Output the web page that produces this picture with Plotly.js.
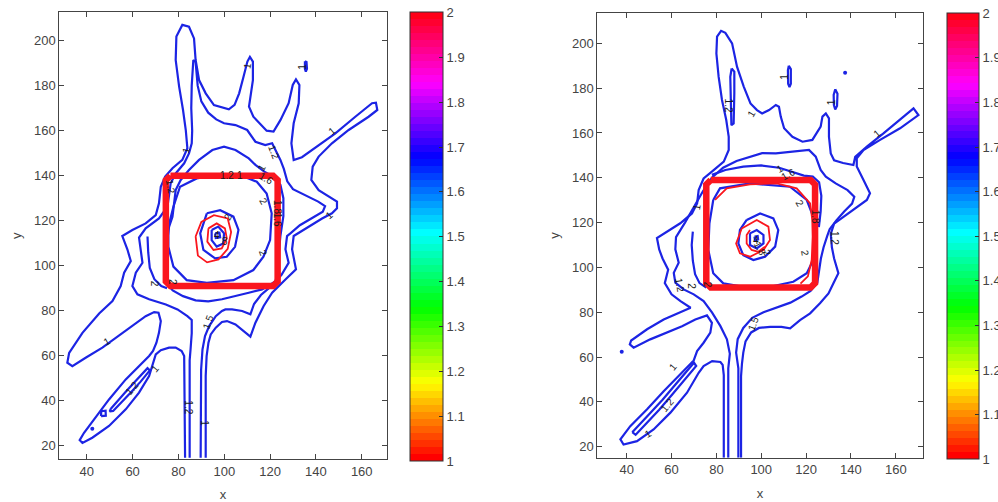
<!DOCTYPE html>
<html><head><meta charset="utf-8">
<script src="https://cdn.plot.ly/plotly-3.0.1.min.js"></script>
<style>html,body{margin:0;padding:0;background:#fff}#chart{width:998px;height:502px}</style>
</head><body><div id="chart"></div>
<script>
// ---------- tick labels ----------
const xTicks = [40, 60, 80, 100, 120, 140, 160];
const yTicks = [20, 40, 60, 80, 100, 120, 140, 160, 180, 200];
const cbTicks = [1, 1.1, 1.2, 1.3, 1.4, 1.5, 1.6, 1.7, 1.8, 1.9, 2];
const cbTickText = ['1', '1.1', '1.2', '1.3', '1.4', '1.5', '1.6', '1.7', '1.8', '1.9', '2'];
const cbRange = [1, 2];

// ---------- left panel contour paths (data units) ----------
const leftOuter = [[82.9,14.7],[82.6,51.0],[82.5,59.9],[81.4,62.1],[78.8,63.6],[75.9,63.6],[72.3,62.5],[70.1,60.6],[68.6,55.4],[67.2,51.0],[62.8,43.6],[57.0,36.2],[49.7,28.8],[42.4,23.6],[38.1,21.3],[36.9,22.5],[38.8,25.8],[43.9,32.5],[49.7,40.6],[57.0,49.5],[64.3,56.9],[67.2,59.9],[68.9,62.1],[70.4,65.8],[71.5,70.2],[72.3,75.4],[71.3,79.1],[69.4,79.4],[65.7,77.6],[61.4,74.4],[54.1,68.8],[46.8,63.6],[39.5,59.1],[33.7,55.4],[31.5,56.9],[32.3,61.3],[38.1,70.2],[45.4,78.8],[51.2,84.3],[54.8,91.0],[56.3,96.9],[59.2,102.1],[57.7,107.3],[55.5,113.2],[59.9,115.9],[65.7,118.8],[70.1,122.5],[71.5,127.7],[72.3,135.1],[74.2,139.6],[77.4,143.3],[81.7,147.0],[83.9,152.2],[83.2,160.3],[82.0,169.2],[80.3,179.6],[78.8,191.4],[79.1,201.8],[81.7,207.0],[84.6,206.2],[86.8,201.0],[87.5,191.4],[89.0,182.5],[91.9,176.6],[95.5,171.4],[99.9,169.9],[102.0,169.5],[104.5,171.5],[106.5,176.6],[108.4,184],[110.1,190.7],[111.2,192.8],[112.5,190.7],[112.5,182.5],[111.3,175.1],[110.8,170.7],[112.7,166.2],[115.5,163],[118.5,160],[121.5,159.6],[124.5,164.7],[128.1,172.2],[129.9,180.3],[131.3,182.8],[132.8,180.3],[132.5,172.2],[130.3,163.3],[129.3,154.4],[130.3,147.0],[133.9,148.2],[142.7,154.4],[148.5,158.8],[157.2,166.2],[164.5,172.2],[166.2,172.4],[166.8,169.2],[163.0,166.2],[154.3,160.3],[147.0,154.4],[141.2,148.5],[138.6,144.0],[138.0,138.1],[141.2,133.6],[145.6,130.7],[149.2,128.5],[149.2,125.5],[147.0,123.3],[142.7,121.0],[136.9,117.3],[130.3,113.2],[129.6,107.3],[131.3,98.4],[126.7,93.9],[120.9,88.0],[117.2,82.1],[113.6,74.7],[111.4,68.5],[108.5,71.0],[104.9,73.9],[101.2,75.4],[99.0,75.0],[96.3,72.5],[94.1,69.5],[93.1,65.8],[92.3,59.9],[91.9,51.0],[91.9,14.7]];
const leftC12 = [[84.9,14.7],[84.9,58],[85.3,63],[85.8,70],[85.8,75.9],[83.9,77.6],[79.6,80.6],[74.5,82.8],[67.2,85.1],[62.1,87.3],[59.9,91.0],[61.4,96.9],[64.3,101.3],[63.5,107.3],[62.8,112.5],[65.7,116.6],[71.5,121.0],[75.2,126.2],[75.9,130.7],[76.6,136.6],[78.8,141.0],[82.5,145.5],[84.6,149.9],[85.8,154.4],[86.0,160],[85.6,170],[85.8,180],[86.5,191.4],[87.5,190.5],[88.4,180],[90,173],[93,168],[96.5,165],[99.9,163.3],[104.9,162.5],[110,160.3],[113.6,155.1],[117.9,153.6],[120.9,154.4],[122.5,151],[124.5,147],[126,143],[127.5,137.5],[130,134],[135,131.4],[141,128.5],[144,126.5],[143,124],[138,121],[133,118],[129,114.5],[127.4,113.2],[126.7,107.3],[128.1,101.3],[125,96],[120,90.5],[116,87],[113,83],[111.4,78.4],[107.8,79.9],[103.4,80.6],[100.5,80.6],[99.0,79.9],[96.3,77.6],[93.4,73.2],[91.6,68.8],[90.5,62.8],[89.9,53.9],[89.7,14.7]];
const leftC15 = [[74.7,108],[75.9,117.3],[77.4,121.8],[78.1,127.7],[78.8,133.6],[81,138.1],[84.6,142.5],[89,147],[94.8,151.4],[99.9,152.9],[104.9,151.4],[110.7,147.7],[113.6,144.8],[117.9,141.5],[121.5,139.5],[124.5,136],[125.8,130],[125.8,122],[124.5,113.2],[123.8,105.8],[123.6,98.4],[122.3,93],[116.5,89.5],[110.7,88.0],[104.9,86.5],[99.0,85.1],[93,84.2],[87.5,84.6],[82,86.5],[77.5,89],[75,92]];
const leftSide = [[66.5,113],[66.8,106],[67.5,99],[69.5,94],[72.5,91],[75,90]];
const leftIn = [[77.8,126.2],[80.7,135.1],[88.0,138.8],[98.2,140.7],[106.9,140.3],[114.2,137.3],[118.5,132.1],[120.7,123.3],[120.0,111.4],[117.1,104.0],[112.7,98.1],[104.0,93.6],[92.4,92.4],[83.6,93.6],[77.8,99.6],[75.6,108.4],[75.6,117.3],[77.8,126.2]];
const leftD2in = [[50.5,36.5],[53,39.5],[57,44],[61,48.5],[65,53],[66.5,54.5],[67.5,53.5],[63.5,48.5],[59,43.5],[55,39],[51.5,35.5],[50,35.3],[50.5,36.5]];
const leftSq = [[46.2,33.2],[48.3,33.4],[48.2,35.6],[46.3,35.4],[46.2,33.2]];
const leftIsl = [[135.2,190.8],[135.9,190.5],[136.1,187.5],[135.6,186.2],[135.2,187.5],[135.2,190.8]];
const leftB1 = [[92.4,123.3],[98.2,124.7],[104.0,121.8],[106.2,115.9],[104.7,108.4],[101.1,104.0],[96.0,103.3],[90.9,107.0],[89.5,114.4],[92.4,123.3]];
const leftB2 = [[94.5,115.9],[97.4,117.4],[99.9,114.4],[99.6,109.9],[96.7,108.5],[94.5,111.4],[94.5,115.9]];
const leftB3 = [[96.0,114.4],[97.9,114.7],[98.2,112.6],[96.3,112.3],[96.0,114.4]];
const leftR1 = [[87.5,113],[90,119.5],[95.5,122.5],[101.5,121],[103,115],[101.5,107.5],[97.5,102.8],[92.5,101.5],[88.5,104.5],[87.5,113]];
const leftR2 = [[93.1,116.6],[96.7,118.8],[100.3,116.6],[101.1,112.2],[98.9,107.7],[95.3,107.0],[92.6,110.7],[93.1,116.6]];
const leftSquare = [[76.5,140],[121.3,140],[123.3,138],[123.3,93],[121.3,91],[76.5,91],[74.5,93],[74.5,138],[76.5,140]];
const leftDots = [[42.4,27.6]];
const leftLabels = [["1",83.5,151.5,-75],["1",110.0,189.0,-80],["1",134.4,188.4,-90],["1.2",121.8,150.5,70],["1",116.5,143.5,-60],["1.6",118.3,138.8,30],["1",147.2,160,-40],["1",145.6,122.5,-40],["2",117.1,128.4,60],["1.8",122.9,126.2,90],["1.6",123.6,120.3,90],["2",117.1,105.5,70],["1.2",101.1,140.2,0],["1",106.9,140.2,0],["1.2",76.4,135.1,80],["2",69.4,91.9,90],["2",77.5,92.9,90],["1.5",93.1,75.1,-70],["1",48.7,66.2,-30],["1",69.8,54.4,-50],["1.2",59.6,45.5,-50],["1.2",84.4,37.3,90],["1",91.3,29.9,90],["2",101.8,121.8,-60],["4",97,113.6,0],["8",100.3,110.7,0]];

// ---------- right panel contour paths (data units) ----------
const rightOuter = [[83.3,15.1],[83.3,52],[82.8,56.5],[81.8,57.8],[78.1,58.2],[74.3,56.0],[72.1,53.0],[66.9,44.1],[59.5,35.2],[52.0,27.7],[44.6,22.5],[38.6,21.0],[37.2,23.3],[41.6,29.2],[49.1,36.7],[56.5,44.8],[63.9,52.3],[69.9,58.5],[71.4,62.7],[74.3,66.4],[77.3,70.9],[78.0,75.3],[75.8,78.6],[70.6,76.8],[64.7,73.8],[58.0,70.9],[50.5,67.9],[43.1,64.2],[41.4,65.7],[42.0,67.4],[49.1,72.4],[56.5,76.8],[63.9,80.1],[68.5,82.0],[64,85],[60,88],[57,93],[58.5,99],[56,104],[54.5,108],[53.5,113.1],[58.0,116.0],[63.9,119.7],[69.1,124.1],[71.4,128.6],[72.1,134.5],[74.3,139.7],[78.8,143.4],[83.3,147.2],[85.5,152.4],[85.5,158.3],[84.4,165.8],[82.5,174.7],[81.0,185.1],[80.0,195.5],[80.3,203.0],[82.1,205.6],[84.0,204.7],[87.0,200.0],[89.2,189.6],[92.2,180.7],[95.2,173.2],[98.1,170.2],[100.4,168.7],[103.5,170.2],[106.5,172.5],[107.9,171.7],[108.7,167.3],[110.2,162.1],[113.9,158.3],[118.4,156.1],[122.8,156.9],[126.5,162.8],[127.3,167.3],[128.8,168.7],[130.2,166.5],[130.2,158.3],[131.0,150.9],[132.5,147.8],[136.5,146.6],[141.1,145.7],[141.9,149.4],[147.1,153.9],[154.5,159.8],[161.9,165.8],[167.9,171.0],[170.1,168.0],[161.9,162.1],[153.0,156.9],[145.6,152.4],[142.6,148.7],[142.6,145.0],[145.6,139.0],[148.5,133.1],[147.1,130.1],[141.1,125.6],[136.7,122.6],[132.5,119.5],[131,115],[131.5,109],[132.5,104],[134.4,97.4],[132.2,92.9],[130,88.4],[126.2,84.0],[121.8,79.5],[117.3,76.5],[112.9,72.8],[109,73.5],[104,73.5],[99,73],[95.5,71],[93,67],[92,62],[91.4,57],[91,51.5],[91,15.1]];
const rightC12 = [[85.3,15.1],[85.3,55],[86.0,61.5],[84.7,67.9],[81.8,73.8],[78.1,79.8],[74.3,85.0],[69.9,88.0],[65.4,90.2],[61.7,93.2],[61.0,97.6],[63.2,102.1],[61.7,108.1],[62.0,113.5],[66,120],[70,127],[74,134],[78,140],[83,144.5],[89,147.5],[95,149.5],[100.4,151],[106.5,150.9],[113.9,151.6],[121.3,152.4],[124.3,149.4],[126.5,143.5],[128.8,140.5],[133.2,137.5],[138.5,134.5],[141.5,131.5],[140.5,128.5],[137,125],[133.5,121],[130.5,117],[129.4,114],[127.8,109],[126.6,104],[125.8,99],[125,93.2],[122,89.5],[118,87],[113,84.3],[107,82],[101,80],[96,77.5],[92,73],[89.5,68],[88.8,62],[89.8,55],[89.8,15.1]];
const rightC15 = [[78,141.3],[84,143.5],[92,145],[100,145.5],[108,144.5],[114,142.5],[119,141],[123,140.5],[125.8,138],[126.8,132],[126.5,125],[125.7,118]];
const rightSide = [[69.5,116],[69,110],[69.5,103],[70.5,97],[72.5,93],[75.5,91]];
const rightIn = [[78.6,130.1],[81.6,135.3],[95.0,137.5],[112.8,136.0],[120.3,130.1],[123.2,122.6],[124.0,113.7],[123.2,103.3],[120.3,97.4],[114.3,93.6],[103.9,91.4],[92.0,91.4],[83.1,92.9],[78.6,97.4],[76.4,107.8],[76.9,119.7],[78.6,130.1]];
const rightRedArc = [[79.4,130.1],[84.6,135.3],[95.0,137.1],[106.9,137.5],[115.8,135.3],[121.8,128.6],[122.8,121],[123,113.7],[122.5,103.3],[120.8,96],[117.5,92.8]];
const rightDendIn = [[86.8,188.8],[88.0,187.4],[88.0,177.7],[87.7,164.3],[86.7,163.5],[86.5,177.7],[86.2,185.1],[86.8,188.8]];
const rightD2in = [[42.5,26.5],[44,28.2],[50,34.5],[56,41],[62,48],[67,54],[70,57.5],[71,56],[66.5,50.5],[60.5,43.5],[54.5,36.5],[48.5,30],[44,25.3],[42.5,26.5]];
const rightIsl1 = [[112.3,190],[113.2,188.5],[113.2,182],[112.6,180.5],[112.0,182],[111.9,188],[112.3,190]];
const rightIsl2 = [[133.0,179.5],[134.0,177.5],[133.8,172],[133.0,170.5],[132.4,172.5],[132.3,177],[133.0,179.5]];
const rightB1 = [[93.5,121.2],[99.5,124.1],[105.4,121.9],[107.6,116.7],[106.2,109.3],[101.7,104.8],[96.5,103.3],[92.0,105.5],[89.8,110.7],[90.5,116.7],[93.5,121.2]];
const rightB2 = [[95.0,115.2],[98.0,116.7],[101.0,114.5],[101.0,110.7],[98.0,108.5],[95.0,110.0],[95.0,115.2]];
const rightB3 = [[97,113.8],[98.4,114],[98.6,112.5],[97.2,112.2],[97,113.8]];
const rightR1 = [[91.3,117.4],[98.0,121.2],[103.2,118.2],[103.9,112.2],[101.0,107.8],[95.0,104.8],[90.5,106.3],[88.8,110.7],[91.3,117.4]];
const rightR2 = [[95.0,116.7],[93.5,114.5],[93.5,110.7],[95.7,107.8],[98.7,107.0],[101.7,109.3]];
const rightSquare = [[77.5,139],[122,139],[124,137],[124,93],[122,91],[77.5,91],[75.5,93],[75.5,137],[77.5,139]];
const rightDots = [[137.4,186.9],[37.8,62.4]];
const rightLabels = [["1",95.8,168.5,-60],["1.2",85.4,172,90],["1",110.6,185.1,-90],["1",131.4,173.5,-90],["1",151.5,159.8,-40],["1",108.5,144,-30],["1.6",111.8,141.6,-30],["2",117.3,128.6,60],["1.8",124.0,122.6,90],["1.2",132.6,113.0,90],["2",119.6,106.3,80],["1",71.2,126.8,-80],["1.2",63.8,92.1,80],["2",69.0,91.7,90],["2",76.4,92.1,90],["1.5",96.5,75.0,-70],["1",60.8,55.7,-50],["1.2",57.8,38.6,-50],["1",49.7,25.9,-30],["1.8",99.5,108.5,60],["2",102.5,106.5,60],["4",97.5,112.0,0]];

// ---------- styles ----------
const BLUE = 'rgb(28,36,228)';
const RED = 'rgb(250,22,30)';
const FONT = 'Liberation Sans, Arial, sans-serif';

function hsvColor(h) {
  const i = Math.floor(h * 6), f = h * 6 - i;
  const q = 1 - f, t = f;
  const m = [[1,t,0],[q,1,0],[0,1,t],[0,q,1],[t,0,1],[1,0,q]][i % 6];
  return 'rgb(' + m.map(v => Math.round(v * 255)).join(',') + ')';
}
const N = 64, cscale = [];
for (let k = 0; k < N; k++) {
  const c = hsvColor(k / N);
  cscale.push([k / N, c]);
  cscale.push([(k + 1) / N, c]);
}

const traces = [];
function line(pts, color, width, xa, ya) {
  traces.push({type: 'scatter', mode: 'lines', x: pts.map(p => p[0]), y: pts.map(p => p[1]),
    line: {color: color, width: width}, xaxis: xa, yaxis: ya, hoverinfo: 'skip', showlegend: false});
}
function dots(pts, xa, ya) {
  traces.push({type: 'scatter', mode: 'markers', x: pts.map(p => p[0]), y: pts.map(p => p[1]),
    marker: {color: BLUE, size: 4}, xaxis: xa, yaxis: ya, hoverinfo: 'skip', showlegend: false});
}

// left panel
[leftOuter, leftC12, leftC15, leftSide, leftIn, leftD2in, leftSq, leftIsl, leftB1, leftB2, leftB3].forEach(p => line(p, BLUE, 2.2, 'x', 'y'));
[leftR1, leftR2].forEach(p => line(p, RED, 1.8, 'x', 'y'));
line(leftSquare, RED, 6.5, 'x', 'y');
dots(leftDots, 'x', 'y');
// right panel
[rightOuter, rightC12, rightC15, rightSide, rightIn, rightDendIn, rightD2in, rightIsl1, rightIsl2, rightB1, rightB2, rightB3].forEach(p => line(p, BLUE, 2.2, 'x2', 'y2'));
[rightR1, rightR2, rightRedArc].forEach(p => line(p, RED, 1.8, 'x2', 'y2'));
line(rightSquare, RED, 6.5, 'x2', 'y2');
dots(rightDots, 'x2', 'y2');

// colour bars
function cbTrace(xa, ya, xpos, ytop, len, thick) {
  traces.push({type: 'scatter', mode: 'markers', x: [null, null], y: [null, null], xaxis: xa, yaxis: ya,
    hoverinfo: 'skip', showlegend: false,
    marker: {color: cbRange, cmin: cbRange[0], cmax: cbRange[1], colorscale: cscale, showscale: true, opacity: 0,
      colorbar: {x: xpos, xanchor: 'left', xpad: 0, y: ytop, yanchor: 'top', ypad: 0, len: len, lenmode: 'fraction',
        thickness: thick, thicknessmode: 'pixels', outlinecolor: '#333', outlinewidth: 1,
        tickmode: 'array', tickvals: cbTicks, ticktext: cbTickText, ticks: 'inside', ticklen: 4, tickcolor: '#333',
        tickfont: {family: FONT, size: 13, color: '#444'}}}});
}
cbTrace('x', 'y', 410 / 998, 1 - 12.3 / 502, 448.7 / 502, 33);
cbTrace('x2', 'y2', 947 / 998, 1 - 13.3 / 502, 446 / 502, 32);

const annotations = [];
function labels(list, xa, ya) {
  list.forEach(l => annotations.push({text: l[0], x: l[1], y: l[2], textangle: l[3], xref: xa, yref: ya,
    showarrow: false, font: {family: FONT, size: 10, color: '#1a1a1a'}}));
}
labels(leftLabels, 'x', 'y');
labels(rightLabels, 'x2', 'y2');

function axis(dom, range, ticks, title, anchor, standoff) {
  return {domain: dom, range: range, tickmode: 'array', tickvals: ticks, ticks: 'inside', ticklen: 5,
    tickcolor: '#444', showline: true, linecolor: '#444', linewidth: 1, mirror: 'ticks', showgrid: false,
    zeroline: false, anchor: anchor, tickfont: {family: FONT, size: 13, color: '#444'},
    title: {text: title, font: {family: FONT, size: 13, color: '#444'}, standoff: standoff}};
}

const layout = {
  width: 998, height: 502, paper_bgcolor: '#fff', plot_bgcolor: '#fff',
  margin: {l: 0, r: 0, t: 0, b: 0, autoexpand: false}, showlegend: false,
  xaxis: axis([59.3 / 998, 386.7 / 998], [28.0, 170.9], xTicks, 'x', 'y', 12),
  yaxis: axis([1 - 459.3 / 502, 1 - 12.3 / 502], [14.0, 212.6], yTicks, 'y', 'x', 9),
  xaxis2: axis([597.3 / 998, 922.7 / 998], [26.9, 172.0], xTicks, 'x', 'y2', 12),
  yaxis2: axis([1 - 457.7 / 502, 1 - 13.3 / 502], [15.1, 213.4], yTicks, 'y', 'x2', 9),
  annotations: annotations
};

Plotly.newPlot('chart', traces, layout, {staticPlot: true, displayModeBar: false});
</script></body></html>
